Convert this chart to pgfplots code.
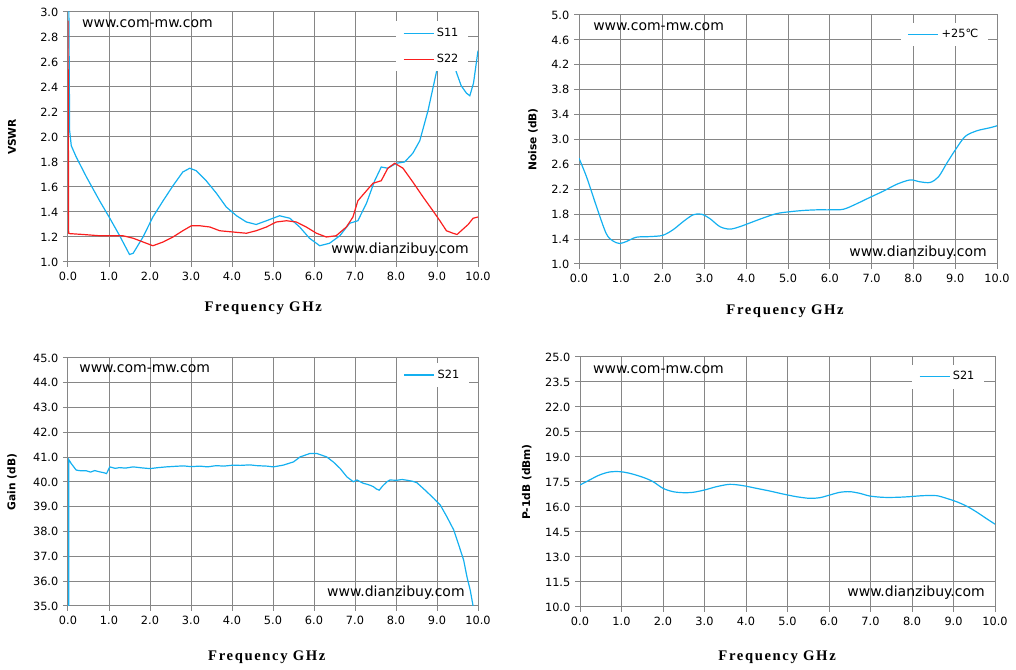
\documentclass[border=0pt]{standalone}
\usepackage{fontspec}
\setmainfont{DejaVu Sans}
\newfontfamily\labserif[LetterSpace=11]{Liberation Serif}
\usepackage{pgfplots}
\pgfplotsset{compat=1.18}
\definecolor{gridc}{RGB}{134,134,134}
\definecolor{cblue}{RGB}{20,176,240}
\definecolor{cred}{RGB}{250,30,30}
\tikzset{wm/.style={font=\fontsize{10.5}{12}\selectfont, inner sep=0pt}}
\pgfplotsset{
 legend image code/.code={\draw[#1] (0pt,0pt) -- (22.5pt,0pt);},
 chart/.style={
  scale only axis,
  xmin=0, xmax=10,
  xtick={0,1,2,3,4,5,6,7,8,9,10},
  grid=major,
  major grid style={gridc, line width=0.75pt},
  axis line style={gridc, line width=0.75pt},
  tick style={gridc, line width=0.75pt},
  tick align=outside,
  major tick length=3.75pt,
  xtick pos=left, ytick pos=left,
  ticklabel style={font=\fontsize{8.5}{10}\selectfont},
  /pgf/number format/fixed,
  /pgf/number format/fixed zerofill,
  /pgf/number format/precision=1,
  /pgf/number format/assume math mode=true,
  xlabel={Frequency GHz},
  xlabel style={font=\labserif\bfseries\fontsize{11}{13}\selectfont, anchor=center},
  ylabel style={font=\bfseries\fontsize{8}{10}\selectfont, anchor=center},
  legend style={draw=none, fill=white, anchor=north west, font=\fontsize{8.5}{10}\selectfont,
    inner xsep=5pt, inner ysep=3pt, row sep=8pt},
  legend cell align=left,
  every axis plot/.append style={line width=0.9pt},
 },
}
\begin{document}
\begin{tikzpicture}
\path[use as bounding box] (0,0) rectangle (762pt,502.5pt);
% ---------------- VSWR ----------------
\begin{axis}[chart,
  at={(51pt,306pt)}, anchor=south west,
  width=307.5pt, height=187.5pt,
  ymin=1, ymax=3, ytick={1,1.2,1.4,1.6,1.8,2.0,2.2,2.4,2.6,2.8,3.0},
  ylabel={VSWR},
  xlabel style={at={(axis description cs:0.476,-0.184)}},
  ylabel style={at={(axis description cs:-0.1366,0.5)}},
  legend style={at={(axis description cs:0.8,0.964)}},
]
\addplot[cblue] coordinates {
(0.02,3.05)(0.04,2.05)(0.08,1.93)(0.2,1.84)(0.45,1.68)(0.77,1.49)(1.02,1.35)(1.26,1.21)(1.50,1.06)(1.59,1.07)
(1.83,1.20)(2.07,1.36)(2.32,1.49)(2.56,1.61)(2.80,1.72)(2.97,1.75)(3.13,1.73)(3.37,1.65)(3.62,1.55)(3.86,1.44)
(4.11,1.37)(4.35,1.32)(4.59,1.30)(4.84,1.33)(5.16,1.37)(5.41,1.35)(5.65,1.28)(5.89,1.19)(6.14,1.13)(6.38,1.15)
(6.63,1.21)(6.87,1.31)(7.07,1.33)(7.28,1.47)(7.48,1.65)(7.64,1.76)(7.80,1.75)(8.01,1.79)(8.21,1.80)(8.41,1.87)
(8.58,1.97)(8.78,2.21)(8.98,2.51)(9.1,2.68)(9.2,2.76)(9.3,2.74)(9.4,2.62)(9.47,2.52)(9.59,2.41)(9.72,2.35)
(9.80,2.33)(9.89,2.43)(10.0,2.69)};
\addlegendentry{S11}
\addplot[cred] coordinates {
(0.0,2.93)(0.016,1.23)(0.04,1.227)(0.37,1.22)(0.77,1.21)(1.02,1.21)(1.34,1.21)(1.59,1.19)(1.83,1.16)(2.07,1.13)
(2.32,1.16)(2.56,1.20)(2.80,1.25)(3.01,1.29)(3.21,1.29)(3.46,1.28)(3.70,1.25)(4.02,1.24)(4.35,1.23)(4.59,1.25)
(4.84,1.28)(5.08,1.32)(5.33,1.33)(5.57,1.32)(5.81,1.28)(6.06,1.23)(6.30,1.20)(6.54,1.21)(6.79,1.28)(6.95,1.36)
(7.07,1.49)(7.28,1.57)(7.44,1.63)(7.64,1.65)(7.80,1.75)(7.97,1.79)(8.17,1.75)(8.41,1.64)(8.66,1.52)(8.90,1.41)
(9.07,1.33)(9.23,1.25)(9.39,1.23)(9.49,1.22)(9.59,1.25)(9.76,1.30)(9.88,1.35)(10.0,1.36)};
\addlegendentry{S22}
\node[wm, anchor=west] at (rel axis cs:0.034,0.952) {www.com-mw.com};
\node[wm, anchor=east] at (rel axis cs:0.978,0.048) {www.dianzibuy.com};
\end{axis}
% ---------------- Noise ----------------
\begin{axis}[chart,
  at={(434.25pt,304.5pt)}, anchor=south west,
  width=313.5pt, height=186.75pt,
  ymin=1, ymax=5, ytick={1.0,1.4,1.8,2.2,2.6,3.0,3.4,3.8,4.2,4.6,5.0},
  ylabel={Noise (dB)},
  xlabel style={at={(axis description cs:0.493,-0.189)}},
  ylabel style={at={(axis description cs:-0.110,0.5)}},
  legend style={at={(axis description cs:0.77,0.97)}},
]
\addplot[cblue, smooth] coordinates {
(0,2.70)(0.18,2.40)(0.42,1.92)(0.65,1.49)(0.81,1.37)(0.97,1.33)(1.13,1.36)(1.37,1.43)(1.69,1.44)(2.0,1.46)
(2.25,1.55)(2.49,1.68)(2.73,1.79)(2.93,1.80)(3.13,1.73)(3.37,1.60)(3.61,1.56)(3.85,1.60)(4.09,1.66)(4.41,1.74)
(4.73,1.81)(5.05,1.84)(5.37,1.86)(5.69,1.87)(6.01,1.87)(6.33,1.88)(6.65,1.97)(6.96,2.07)(7.28,2.17)(7.60,2.28)
(7.92,2.35)(8.16,2.32)(8.40,2.31)(8.60,2.40)(8.80,2.62)(9.00,2.83)(9.24,3.05)(9.52,3.14)(9.84,3.19)(10.0,3.22)};
\addlegendentry{+25℃}
\node[wm, anchor=west] at (rel axis cs:0.0335,0.952) {www.com-mw.com};
\node[wm, anchor=east] at (rel axis cs:0.976,0.044) {www.dianzibuy.com};
\end{axis}
% ---------------- Gain ----------------
\begin{axis}[chart,
  at={(51pt,48pt)}, anchor=south west,
  width=307.5pt, height=186pt,
  ymin=35, ymax=45, ytick={35,36,37,38,39,40,41,42,43,44,45},
  ylabel={Gain (dB)},
  xlabel style={at={(axis description cs:0.485,-0.206)}},
  ylabel style={at={(axis description cs:-0.1366,0.5)}},
  legend style={at={(axis description cs:0.802,0.98)}},
]
\addplot[cblue] coordinates {
(0.016,35.0)(0.02,40.9)(0.08,40.74)(0.2,40.48)(0.32,40.45)(0.45,40.45)(0.55,40.40)(0.65,40.46)(0.77,40.41)(0.86,40.38)
(0.94,40.34)(1.02,40.61)(1.15,40.55)(1.26,40.58)(1.4,40.56)(1.59,40.61)(1.8,40.57)(2.0,40.54)(2.2,40.58)(2.4,40.61)
(2.6,40.63)(2.81,40.65)(3.0,40.62)(3.22,40.64)(3.4,40.61)(3.62,40.66)(3.8,40.64)(4.03,40.68)(4.2,40.67)(4.44,40.69)
(4.6,40.66)(4.85,40.64)(5.01,40.61)(5.25,40.68)(5.50,40.81)(5.66,41.01)(5.90,41.15)(6.07,41.15)(6.31,41.01)(6.47,40.81)
(6.64,40.54)(6.80,40.21)(6.96,40.01)(7.05,40.08)(7.13,40.01)(7.20,39.95)(7.29,39.91)(7.38,39.86)(7.45,39.81)(7.52,39.72)
(7.59,39.67)(7.68,39.85)(7.78,40.01)(7.85,40.08)(8.02,40.07)(8.15,40.10)(8.27,40.07)(8.40,40.03)(8.51,39.97)(8.71,39.67)
(8.92,39.34)(9.08,39.07)(9.24,38.60)(9.41,38.06)(9.53,37.46)(9.65,36.85)(9.73,36.18)(9.81,35.64)(9.88,35.0)};
\addlegendentry{S21}
\node[wm, anchor=west] at (rel axis cs:0.027,0.956) {www.com-mw.com};
\node[wm, anchor=east] at (rel axis cs:0.968,0.052) {www.dianzibuy.com};
\end{axis}
% ---------------- P-1dB ----------------
\begin{axis}[chart,
  at={(435pt,47.25pt)}, anchor=south west,
  width=311.25pt, height=187.5pt,
  ymin=10, ymax=25, ytick={10,11.5,13,14.5,16,17.5,19,20.5,22,23.5,25},
  ylabel={P-1dB (dBm)},
  xlabel style={at={(axis description cs:0.475,-0.2)}},
  ylabel style={at={(axis description cs:-0.128,0.5)}},
  legend style={at={(axis description cs:0.8,0.97)}},
]
\addplot[cblue, smooth] coordinates {
(0,17.32)(0.23,17.62)(0.47,17.92)(0.71,18.10)(0.96,18.12)(1.2,18.02)(1.52,17.78)(1.76,17.52)(2.0,17.12)(2.24,16.92)
(2.48,16.86)(2.72,16.88)(3.0,17.02)(3.29,17.22)(3.61,17.36)(3.93,17.28)(4.25,17.12)(4.57,16.96)(4.89,16.78)(5.21,16.62)
(5.53,16.52)(5.78,16.56)(6.02,16.72)(6.26,16.88)(6.5,16.92)(6.74,16.82)(6.98,16.66)(7.3,16.58)(7.62,16.58)(7.94,16.62)
(8.27,16.68)(8.59,16.68)(8.83,16.52)(9.07,16.32)(9.31,16.06)(9.55,15.71)(9.79,15.31)(10.0,14.97)};
\addlegendentry{S21}
\node[wm, anchor=west] at (rel axis cs:0.031,0.948) {www.com-mw.com};
\node[wm, anchor=east] at (rel axis cs:0.976,0.056) {www.dianzibuy.com};
\end{axis}
\end{tikzpicture}
\end{document}
